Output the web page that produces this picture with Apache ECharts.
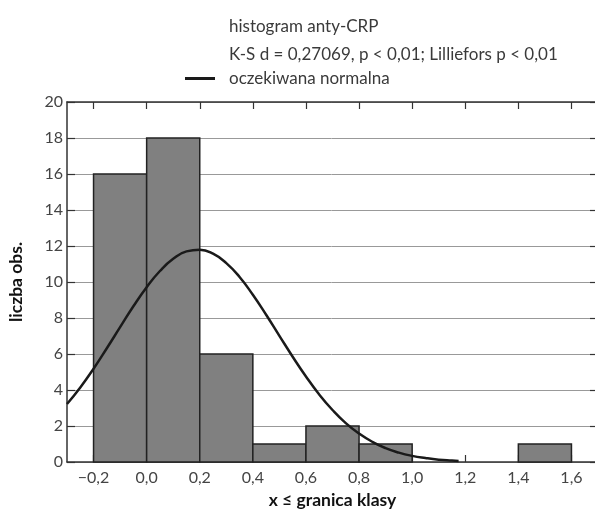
<!DOCTYPE html>
<html>
<head>
<meta charset="utf-8">
<script src="https://cdn.jsdelivr.net/npm/echarts@6/dist/echarts.min.js"></script>
<style>html,body{margin:0;padding:0;background:#fff}#c{width:595px;height:511px}</style>
</head>
<body>
<div id="c"></div>
<script>
// Histogram bins: lower edge, upper edge, count
var binStarts = [-0.2, 0.0, 0.2, 0.4, 0.6, 0.8, 1.0, 1.2, 1.4];
var binEnds   = [0.0, 0.2, 0.4, 0.6, 0.8, 1.0, 1.2, 1.4, 1.6];
var binCounts = [16, 18, 6, 1, 2, 1, 0, 0, 1];
// Expected normal curve
var curveX = [-0.30,-0.25,-0.20,-0.15,-0.10,-0.05,0.00,0.05,0.10,0.15,0.20,0.25,0.30,0.35,0.40,0.45,0.50,0.55,0.60,0.65,0.70,0.75,0.80,0.85,0.90,0.95,1.00,1.05,1.10,1.15,1.175];
var curveY = [3.22,4.14,5.18,6.32,7.49,8.65,9.71,10.61,11.29,11.70,11.79,11.57,11.05,10.28,9.29,8.18,7.01,5.85,4.75,3.75,2.89,2.16,1.58,1.12,0.77,0.52,0.34,0.22,0.13,0.08,0.06];
var xTicks = [-0.2, 0.0, 0.2, 0.4, 0.6, 0.8, 1.0, 1.2, 1.4, 1.6];
var titleLines = ['histogram anty-CRP', 'K-S d = 0,27069, p < 0,01; Lilliefors p < 0,01'];
var curveName = 'oczekiwana normalna';
var xName = 'x \u2264 granica klasy';
var yName = 'liczba obs.';

var FONT = 'Lato';
var binData = binStarts.map(function(s, i){ return [s, binEnds[i], binCounts[i]]; });
var curveData = curveX.map(function(x, i){ return [x, curveY[i]]; });
function fmt(v){ return v.toFixed(1).replace('.', ',').replace('-', '\u2212'); }

var chart = echarts.init(document.getElementById('c'), null, {renderer: 'canvas'});
var tickStyle = {show: true, inside: true, length: 7, lineStyle: {color: '#333', width: 1.2}};
chart.setOption({
  animation: false,
  textStyle: {fontFamily: FONT},
  title: {
    text: titleLines.join('\n'),
    left: 229, top: 13, padding: 0,
    textStyle: {fontFamily: FONT, fontSize: 17, fontWeight: 'normal', color: '#3a3a3a', lineHeight: 28}
  },
  legend: {
    left: 185, top: 70, padding: 0,
    data: [{name: curveName, icon: 'rect'}],
    itemWidth: 30, itemHeight: 3,
    itemGap: 0,
    textStyle: {fontFamily: FONT, fontSize: 17, color: '#3a3a3a', padding: [0, 0, 0, 9]}
  },
  grid: {left: 67, right: -3, top: 102, bottom: 49, containLabel: false, outerBoundsMode: 'none'},
  xAxis: [{
    type: 'value', min: -0.3, max: 1.7,
    name: xName, nameLocation: 'middle', nameGap: 29,
    nameTextStyle: {fontFamily: FONT, fontSize: 17.5, fontWeight: 'bold', color: '#111'},
    axisLine: {show: true, onZero: false, lineStyle: {color: '#333', width: 1.5}},
    axisTick: Object.assign({customValues: xTicks}, tickStyle),
    axisLabel: {customValues: xTicks, formatter: fmt, fontFamily: FONT, fontSize: 16, color: '#444', margin: 8},
    splitLine: {show: false}
  }, {
    type: 'value', min: -0.3, max: 1.7, position: 'top',
    axisLine: {show: true, onZero: false, lineStyle: {color: '#333', width: 1.5}},
    axisTick: Object.assign({customValues: xTicks}, tickStyle),
    axisLabel: {show: false},
    splitLine: {show: false}
  }],
  yAxis: [{
    type: 'value', min: 0, max: 20, interval: 2,
    name: yName, nameLocation: 'middle', nameGap: 42, nameRotate: 90,
    nameTextStyle: {fontFamily: FONT, fontSize: 17.5, fontWeight: 'bold', color: '#111'},
    axisLine: {show: true, onZero: false, lineStyle: {color: '#333', width: 1.5}},
    axisTick: Object.assign({}, tickStyle, {length: 8}),
    axisLabel: {fontFamily: FONT, fontSize: 16, color: '#444', margin: 4},
    splitLine: {show: true, lineStyle: {color: '#999', width: 1}}
  }, {
    type: 'value', min: 0, max: 20, interval: 2, position: 'right',
    axisLine: {show: true, onZero: false, lineStyle: {color: '#333', width: 1.5}},
    axisTick: Object.assign({}, tickStyle, {length: 8}),
    axisLabel: {show: false},
    splitLine: {show: false}
  }],
  series: [{
    name: 'histogram anty-CRP',
    type: 'custom',
    xAxisIndex: 0, yAxisIndex: 0,
    data: binData,
    encode: {x: [0, 1], y: 2},
    renderItem: function(params, api){
      var c = api.value(2);
      if (!c) return null;
      var p0 = api.coord([api.value(0), 0]);
      var p1 = api.coord([api.value(1), c]);
      return {
        type: 'rect',
        shape: {x: p0[0], y: p1[1], width: p1[0] - p0[0], height: p0[1] - p1[1]},
        style: {fill: '#808080', stroke: '#222', lineWidth: 1.5}
      };
    },
    z: 2
  }, {
    name: curveName,
    type: 'line',
    xAxisIndex: 0, yAxisIndex: 0,
    data: curveData,
    smooth: true,
    showSymbol: false,
    lineStyle: {color: '#1a1a1a', width: 2.5},
    itemStyle: {color: '#1a1a1a'},
    z: 3
  }]
});
</script>
</body>
</html>
